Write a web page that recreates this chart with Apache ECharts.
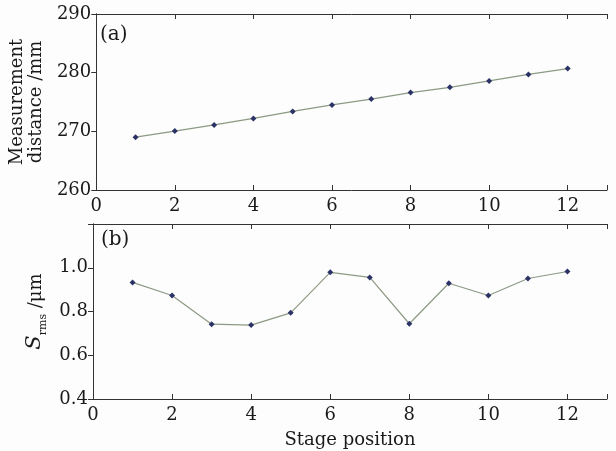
<!DOCTYPE html>
<html>
<head>
<meta charset="utf-8">
<script src="https://cdn.jsdelivr.net/npm/echarts@6/dist/echarts.min.js"></script>
<style>
html, body { margin: 0; padding: 0; background: #fdfdfd; }
#main { width: 616px; height: 451px; }
</style>
</head>
<body>
<div id="main"></div>
<script>
var stagePos = [1, 2, 3, 4, 5, 6, 7, 8, 9, 10, 11, 12];
var distance = [269.0, 270.05, 271.1, 272.2, 273.4, 274.5, 275.5, 276.6, 277.5, 278.6, 279.7, 280.7];
var srms = [0.933, 0.873, 0.742, 0.738, 0.794, 0.979, 0.956, 0.744, 0.929, 0.873, 0.951, 0.983];

function pairs(xs, ys) {
    var out = [];
    for (var i = 0; i < xs.length; i++) {
        out.push([xs[i], ys[i]]);
    }
    return out;
}

var serif = 'DejaVu Serif';
var inkColor = '#1a1a1a';
var frameColor = '#333';

function xAxisBottom(gridIndex, name) {
    return {
        type: 'value', gridIndex: gridIndex, position: 'bottom',
        min: 0, max: 13, interval: 2,
        axisLine: { onZero: false, lineStyle: { color: frameColor } },
        axisTick: { inside: true, length: 5, lineStyle: { color: frameColor } },
        axisLabel: {
            color: inkColor, fontFamily: serif, fontSize: 18, margin: 7,
            formatter: function (v) { return v > 12 ? '' : v; }
        },
        splitLine: { show: false },
        name: name || '', nameLocation: 'middle', nameGap: 32,
        nameTextStyle: { color: inkColor, fontFamily: serif, fontSize: 18 }
    };
}

function xAxisTop(gridIndex) {
    return {
        type: 'value', gridIndex: gridIndex, position: 'top',
        min: 0, max: 13, interval: 2,
        axisLine: { onZero: false, lineStyle: { color: frameColor } },
        axisTick: { inside: true, length: 5, lineStyle: { color: frameColor } },
        axisLabel: { show: false },
        splitLine: { show: false }
    };
}

function yAxisRight(gridIndex, min, max, interval) {
    return {
        type: 'value', gridIndex: gridIndex, position: 'right',
        min: min, max: max, interval: interval,
        axisLine: { show: true, lineStyle: { color: frameColor } },
        axisTick: { inside: true, length: 5, lineStyle: { color: frameColor } },
        axisLabel: { show: false },
        splitLine: { show: false }
    };
}

var option = {
    backgroundColor: '#fdfdfd',
    animation: false,
    grid: [
        { left: 93, top: 14, width: 514, height: 176 },
        { left: 93, top: 224, width: 514, height: 175 }
    ],
    graphic: [
        { type: 'text', left: 100, top: 25, style: { text: '(a)', font: '20px "DejaVu Serif"', fill: inkColor } },
        { type: 'text', left: 101, top: 230, style: { text: '(b)', font: '20px "DejaVu Serif"', fill: inkColor } }
    ],
    xAxis: [
        xAxisBottom(0),
        xAxisTop(0),
        xAxisBottom(1, 'Stage position'),
        xAxisTop(1)
    ],
    yAxis: [
        {
            type: 'value', gridIndex: 0, position: 'left',
            min: 260, max: 290, interval: 10,
            axisLine: { show: true, lineStyle: { color: frameColor } },
            axisTick: { show: false },
            axisLabel: { color: inkColor, fontFamily: serif, fontSize: 18, margin: 5 },
            splitLine: { show: false },
            name: 'Measurement\ndistance /mm', nameLocation: 'middle', nameGap: 42,
            nameTextStyle: { color: inkColor, fontFamily: serif, fontSize: 18, lineHeight: 19 }
        },
        yAxisRight(0, 260, 290, 10),
        {
            type: 'value', gridIndex: 1, position: 'left',
            min: 0.4, max: 1.2, interval: 0.2,
            axisLine: { show: true, lineStyle: { color: frameColor } },
            axisTick: { show: false },
            axisLabel: {
                color: inkColor, fontFamily: serif, fontSize: 18, margin: 5,
                formatter: function (v) { return v > 1.1 ? '' : v.toFixed(1); }
            },
            splitLine: { show: false },
            name: '{s|S}{sub|rms}{u| /μm}', nameLocation: 'middle', nameGap: 47,
            nameTextStyle: {
                color: inkColor, fontFamily: serif, fontSize: 18,
                rich: {
                    s: { fontFamily: serif, fontSize: 21, fontStyle: 'italic', color: inkColor, verticalAlign: 'bottom' },
                    sub: { fontFamily: serif, fontSize: 11, color: inkColor, verticalAlign: 'bottom', padding: [0, 0, -3, 0] },
                    u: { fontFamily: serif, fontSize: 18, color: inkColor, verticalAlign: 'bottom' }
                }
            }
        },
        yAxisRight(1, 0.4, 1.2, 0.2)
    ],
    series: [
        {
            type: 'line', xAxisIndex: 0, yAxisIndex: 0,
            data: pairs(stagePos, distance),
            symbol: 'diamond', symbolSize: 6,
            lineStyle: { color: '#8c9a84', width: 1.2 },
            itemStyle: { color: '#2b3366' }
        },
        {
            type: 'line', xAxisIndex: 2, yAxisIndex: 2,
            data: pairs(stagePos, srms),
            symbol: 'diamond', symbolSize: 6,
            lineStyle: { color: '#8c9a84', width: 1.2 },
            itemStyle: { color: '#2b3366' }
        }
    ]
};

var myChart = echarts.init(document.getElementById('main'));
myChart.setOption(option);
</script>
</body>
</html>
